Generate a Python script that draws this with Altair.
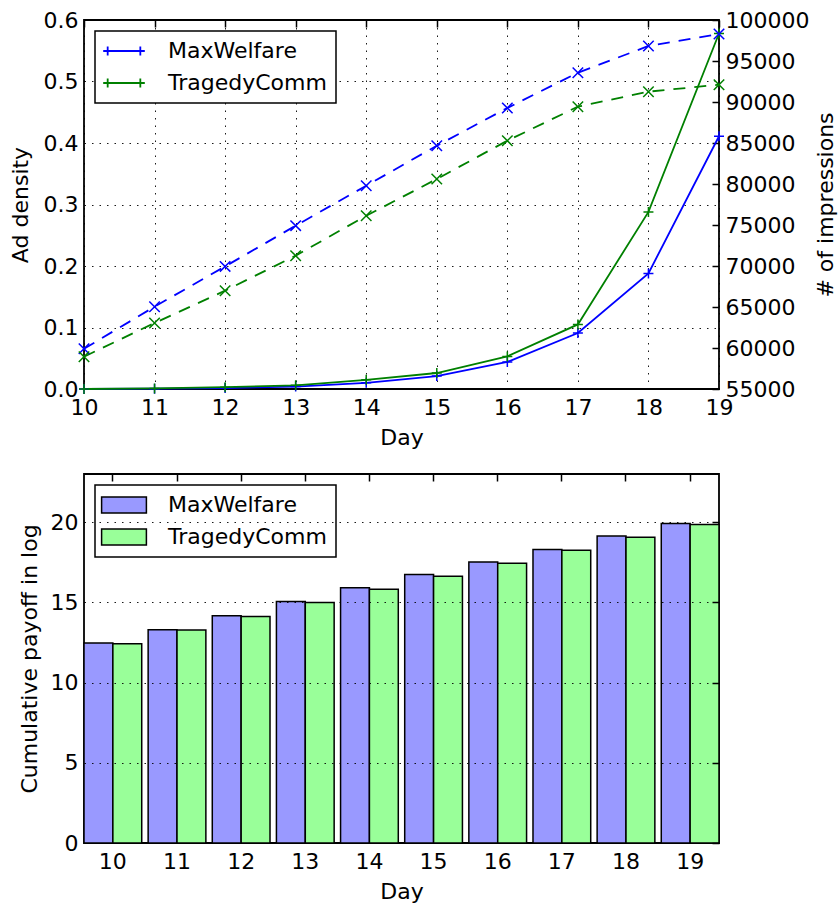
import altair as alt
import pandas as pd

days = list(range(10, 20))
series = ["MaxWelfare", "TragedyComm"]

# top panel: ad density (solid, left axis) and number of impressions (dashed, right axis)
density_mw = [0.0, 0.0005, 0.0015, 0.004, 0.010, 0.021, 0.044, 0.091, 0.188, 0.411]
density_tc = [0.0, 0.001, 0.003, 0.006, 0.015, 0.026, 0.053, 0.105, 0.288, 0.578]
impr_mw = [59900, 65040, 69950, 74920, 79790, 84670, 89270, 93570, 96830, 98290]
impr_tc = [58940, 63050, 66990, 71260, 76130, 80610, 85280, 89430, 91260, 92110]

# bottom panel: cumulative payoff in log
payoff_mw = [12.46, 13.29, 14.16, 15.06, 15.91, 16.74, 17.51, 18.30, 19.13, 19.92]
payoff_tc = [12.42, 13.27, 14.12, 14.99, 15.81, 16.62, 17.43, 18.24, 19.05, 19.86]

density_ticks = [0.0, 0.1, 0.2, 0.3, 0.4, 0.5, 0.6]
impr_ticks = [55000, 60000, 65000, 70000, 75000, 80000, 85000, 90000, 95000, 100000]
payoff_ticks = [0, 5, 10, 15, 20]

FONT = "DejaVu Sans"
FS = 22
W, H = 635, 369
TICK = 7

rows = []
for i, d in enumerate(days):
    rows.append(dict(day=d, series=series[0], density=density_mw[i], impressions=impr_mw[i]))
    rows.append(dict(day=d, series=series[1], density=density_tc[i], impressions=impr_tc[i]))
top_df = pd.DataFrame(rows)

bar_rows = []
for i, d in enumerate(days):
    bar_rows.append(dict(day=d, series=series[0], payoff=payoff_mw[i]))
    bar_rows.append(dict(day=d, series=series[1], payoff=payoff_tc[i]))
bar_df = pd.DataFrame(bar_rows)

PLUS = "M-1,0H1M0,-1V1"
XSHAPE = "M-1,-1L1,1M-1,1L1,-1"
LEG_LINE = "M-2.6,0H2.6M-2.04,-0.56V0.56M2.04,-0.56V0.56"
LEG_RECT = "M-2.8,-1H2.8V1H-2.8Z"

grid_kw = dict(gridColor="black", gridDash=[1.5, 6], gridWidth=1, gridOpacity=0.9)
inward = dict(ticks=True, tickSize=TICK, offset=-TICK, tickColor="black", tickWidth=1.5)
tick_only = dict(labels=False, title=None, grid=False, domain=False, **inward)

x_scale_top = alt.Scale(domain=[10, 19], nice=False, zero=False)
x_top = alt.X(
    "day:Q", scale=x_scale_top,
    axis=alt.Axis(values=days, format="d", title="Day", labelFlush=False,
                  labelPadding=8, titlePadding=9, grid=True, **grid_kw),
)
x_top_upper = alt.X(
    "day:Q", scale=x_scale_top,
    axis=alt.Axis(values=days, orient="top", **tick_only),
)

line_colors = alt.Scale(domain=series, range=["#0000ff", "#008000"])
top_legend = alt.Legend(
    title=None, orient="none", legendX=11, legendY=11,
    symbolType=LEG_LINE, symbolSize=256, symbolStrokeWidth=1.8,
    symbolFillColor="transparent", symbolOffset=9, labelOffset=33,
)

y_left = alt.Y(
    "density:Q",
    scale=alt.Scale(domain=[0, 0.6], nice=False),
    axis=alt.Axis(values=density_ticks, format=".1f", title="Ad density",
                  labelPadding=6, titlePadding=11, grid=True, **grid_kw),
)
y_right = alt.Y(
    "impressions:Q",
    scale=alt.Scale(domain=[55000, 100000], nice=False, zero=False),
    axis=alt.Axis(values=impr_ticks, format="d", title="# of impressions",
                  orient="right", labelPadding=6, titlePadding=7, grid=False,
                  titleAngle=270, titleBaseline="top", **inward),
)

base = alt.Chart(top_df)
solid_line = base.mark_line(strokeWidth=1.8).encode(
    x=x_top, y=y_left,
    color=alt.Color("series:N", scale=line_colors, legend=top_legend),
)
solid_pts = base.mark_point(shape=PLUS, filled=False, size=100, strokeWidth=1.5, opacity=1).encode(
    x=x_top, y=y_left,
    color=alt.Color("series:N", scale=line_colors, legend=top_legend),
)
dashed_line = base.mark_line(strokeWidth=1.8, strokeDash=[12, 9]).encode(
    x=x_top_upper, y=y_right,
    color=alt.Color("series:N", scale=line_colors, legend=None),
)
dashed_pts = base.mark_point(shape=XSHAPE, filled=False, size=110, strokeWidth=1.5, opacity=1).encode(
    x=x_top_upper, y=y_right,
    color=alt.Color("series:N", scale=line_colors, legend=None),
)

top = alt.layer(
    alt.layer(solid_line, solid_pts),
    alt.layer(dashed_line, dashed_pts),
).resolve_scale(y="independent").resolve_axis(x="independent").properties(width=W, height=H)

bar_colors = alt.Scale(domain=series, range=["#9999ff", "#99ff99"])
x_bar_scale = alt.Scale(paddingInner=0.1, paddingOuter=0)
off_scale = alt.Scale(domain=series, paddingInner=0, paddingOuter=0)
y_bar_scale = alt.Scale(domain=[0, 23], nice=False)

bars = alt.Chart(bar_df).mark_bar(stroke="black", strokeWidth=1.5, opacity=1).encode(
    x=alt.X("day:O", scale=x_bar_scale,
            axis=alt.Axis(title="Day", labelAngle=0, labelPadding=8, titlePadding=9, grid=False)),
    xOffset=alt.XOffset("series:N", scale=off_scale),
    y=alt.Y("payoff:Q", scale=y_bar_scale,
            axis=alt.Axis(values=payoff_ticks, format="d", title="Cumulative payoff in log",
                          labelPadding=6, titlePadding=9, grid=True, zindex=1, **grid_kw)),
    color=alt.Color("series:N", scale=bar_colors, legend=alt.Legend(
        title=None, orient="none", legendX=11, legendY=11,
        symbolType=LEG_RECT, symbolSize=256, symbolStrokeColor="black",
        symbolStrokeWidth=1.5, symbolOffset=9, labelOffset=33, symbolOpacity=1,
    )),
)
# invisible copy that only carries the inward ticks on the top and right edges
bar_ticks = alt.Chart(bar_df).mark_bar(opacity=0).encode(
    x=alt.X("day:O", scale=x_bar_scale, axis=alt.Axis(orient="top", zindex=1, **tick_only)),
    xOffset=alt.XOffset("series:N", scale=off_scale),
    y=alt.Y("payoff:Q", scale=y_bar_scale,
            axis=alt.Axis(values=payoff_ticks, orient="right", zindex=1, **tick_only)),
)
bottom = alt.layer(bars, bar_ticks).resolve_axis(
    x="independent", y="independent"
).properties(width=W, height=H)

chart = alt.vconcat(top, bottom, spacing=23).resolve_scale(
    color="independent"
).resolve_legend(color="independent").properties(
    padding={"left": 8, "top": 8, "right": 2, "bottom": 2}
).configure_view(
    stroke="black", strokeWidth=1.8
).configure_axis(
    labelFont=FONT, titleFont=FONT, labelFontSize=FS, titleFontSize=FS,
    titleFontWeight="normal", labelColor="black", titleColor="black",
    ticks=False, domain=False,
).configure_legend(
    labelFont=FONT, labelFontSize=FS, labelColor="black", labelLimit=400,
    strokeColor="black", strokeWidth=1.5, fillColor="white", padding=9,
    rowPadding=10, cornerRadius=0,
)

chart.save("out.html", embed_options={"renderer": "svg", "actions": False})
